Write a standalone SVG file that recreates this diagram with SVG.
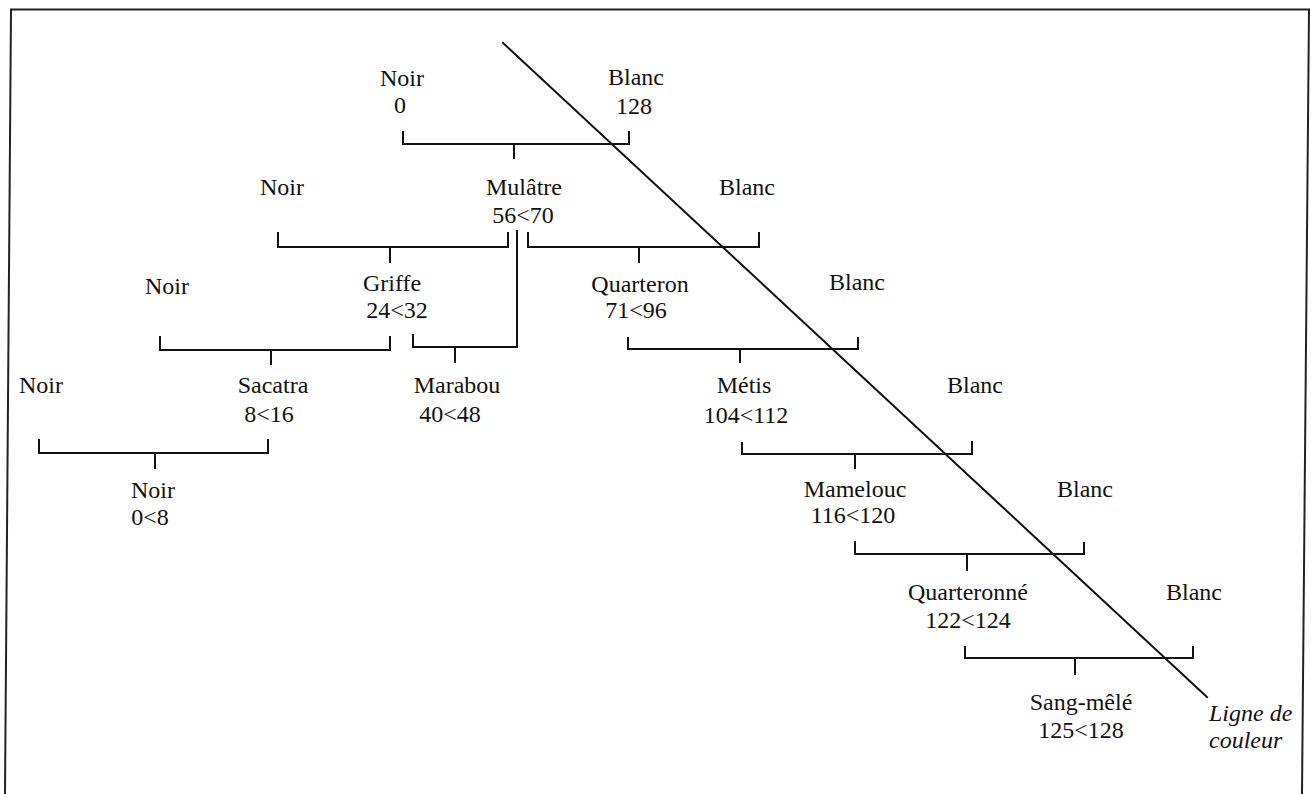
<svg xmlns="http://www.w3.org/2000/svg" width="1311" height="794" viewBox="0 0 1311 794">
<style>
text{font-family:"Liberation Serif","Times New Roman",serif;font-size:24px;fill:#111;text-anchor:middle}
.it{font-style:italic;text-anchor:start}
.ln{fill:none;stroke:#111;stroke-width:2;stroke-linecap:square;stroke-linejoin:miter}
.fr{fill:none;stroke:#222;stroke-width:2}
</style>
<rect width="1311" height="794" fill="#fff"/>
<path class="fr" d="M5 794 L11 9.5 L1309 9.5 L1302 794"/>
<g id="connectors">
<path class="ln" d="M403 132 V144 H629 V132 M514 144 V158"/>
<path class="ln" d="M278 233 V247 H508 V233 M390 247 V262"/>
<path class="ln" d="M528 233 V247 H759 V233 M639 247 V262"/>
<path class="ln" d="M517 231 V347 H413 V335 M455 347 V362"/>
<path class="ln" d="M160 337 V350 H390 V337 M271 350 V364"/>
<path class="ln" d="M628 338 V349 H858 V338 M740 349 V362"/>
<path class="ln" d="M39 440 V453 H268 V440 M155 453 V468"/>
<path class="ln" d="M742 443 V454 H972 V442 M855 454 V468"/>
<path class="ln" d="M855 542 V554 H1084 V543 M967 554 V570"/>
<path class="ln" d="M965 647 V658 H1193 V647 M1075 658 V674"/>
</g>
<g id="colour-line">
<line class="ln" x1="503" y1="43" x2="1207" y2="697" stroke-linecap="butt"/>
<text class="it" x="1209" y="721">Ligne de</text>
<text class="it" x="1209" y="748">couleur</text>
</g>
<g id="noir-0"><text x="402" y="86">Noir</text><text x="400" y="113">0</text></g>
<g id="blanc-128"><text x="636" y="85">Blanc</text><text x="634" y="114">128</text></g>
<g id="noir-2"><text x="282" y="195">Noir</text></g>
<g id="mulatre"><text x="524" y="195">Mulâtre</text><text x="523" y="223">56&lt;70</text></g>
<g id="blanc-2"><text x="747" y="195">Blanc</text></g>
<g id="noir-3"><text x="167" y="294">Noir</text></g>
<g id="griffe"><text x="392" y="291">Griffe</text><text x="397" y="318">24&lt;32</text></g>
<g id="quarteron"><text x="640" y="292">Quarteron</text><text x="636" y="318">71&lt;96</text></g>
<g id="blanc-3"><text x="857" y="290">Blanc</text></g>
<g id="noir-4"><text x="41" y="393">Noir</text></g>
<g id="sacatra"><text x="273" y="393">Sacatra</text><text x="269" y="422">8&lt;16</text></g>
<g id="marabou"><text x="457" y="393">Marabou</text><text x="450" y="422">40&lt;48</text></g>
<g id="metis"><text x="744" y="393">Métis</text><text x="746" y="423">104&lt;112</text></g>
<g id="blanc-4"><text x="975" y="393">Blanc</text></g>
<g id="noir-5"><text x="153" y="498">Noir</text><text x="150" y="525">0&lt;8</text></g>
<g id="mamelouc"><text x="855" y="497">Mamelouc</text><text x="853" y="523">116&lt;120</text></g>
<g id="blanc-5"><text x="1085" y="497">Blanc</text></g>
<g id="quarteronne"><text x="968" y="600">Quarteronné</text><text x="968" y="628">122&lt;124</text></g>
<g id="blanc-6"><text x="1194" y="600">Blanc</text></g>
<g id="sang-mele"><text x="1081" y="710">Sang-mêlé</text><text x="1081" y="738">125&lt;128</text></g>
</svg>
